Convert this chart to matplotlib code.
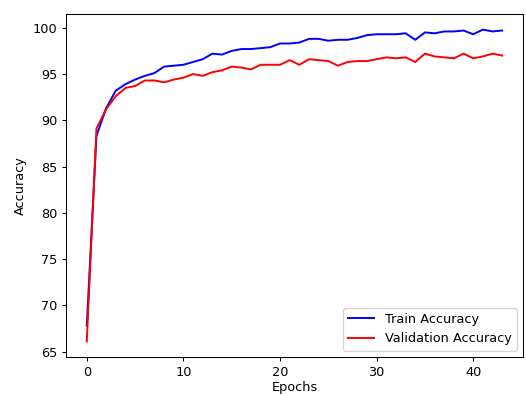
import matplotlib
matplotlib.use("Agg")
import matplotlib.pyplot as plt

# Accuracy per epoch
train_acc = [67.8, 88.3, 91.3, 93.2, 93.9, 94.4, 94.8, 95.1, 95.8, 95.9,
             96.0, 96.3, 96.6, 97.2, 97.1, 97.5, 97.7, 97.7, 97.8, 97.9,
             98.3, 98.3, 98.4, 98.8, 98.8, 98.6, 98.7, 98.7, 98.9, 99.2,
             99.3, 99.3, 99.3, 99.4, 98.7, 99.5, 99.4, 99.6, 99.6, 99.7,
             99.3, 99.8, 99.6, 99.7]
val_acc = [66.1, 89.1, 91.2, 92.6, 93.5, 93.7, 94.3, 94.3, 94.1, 94.4,
           94.6, 95.0, 94.8, 95.2, 95.4, 95.8, 95.7, 95.5, 96.0, 96.0,
           96.0, 96.5, 96.0, 96.6, 96.5, 96.4, 95.9, 96.3, 96.4, 96.4,
           96.6, 96.8, 96.7, 96.8, 96.3, 97.2, 96.9, 96.8, 96.7, 97.2,
           96.7, 96.9, 97.2, 97.0]
epochs = list(range(len(train_acc)))

fs = 9.3
fig = plt.figure(figsize=(5.26, 3.96), dpi=100)
ax = fig.add_axes([0.1255, 0.0985, 0.8688, 0.8661])
ax.plot(epochs, train_acc, color="b", linewidth=1.4, label="Train Accuracy")
ax.plot(epochs, val_acc, color="r", linewidth=1.4, label="Validation Accuracy")
ax.set_xlabel("Epochs", fontsize=fs, labelpad=1.5)
ax.set_ylabel("Accuracy", fontsize=fs)
ax.tick_params(labelsize=fs, length=3.2, width=0.75, pad=3)
for s in ax.spines.values():
    s.set_linewidth(0.75)
ax.legend(loc="lower right", fontsize=fs)
fig.savefig("out.png", dpi=100)
